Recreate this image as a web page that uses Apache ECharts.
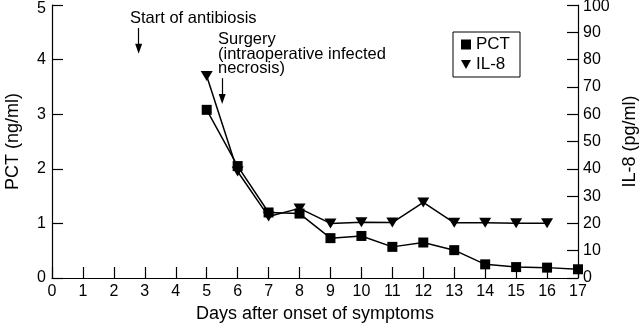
<!DOCTYPE html>
<html>
<head>
<meta charset="utf-8">
<script src="https://cdn.jsdelivr.net/npm/echarts@6/dist/echarts.min.js"></script>
<style>
html, body { margin: 0; padding: 0; background: #fff; }
#chart { width: 640px; height: 325px; }
</style>
</head>
<body>
<div id="chart"></div>
<script>
// 数据
var days = [5, 6, 7, 8, 9, 10, 11, 12, 13, 14, 15, 16, 17];
var pct = [3.08, 2.05, 1.2, 1.18, 0.73, 0.77, 0.57, 0.65, 0.51, 0.25, 0.2, 0.19, 0.16];
var il8Days = [5, 6, 7, 8, 9, 10, 11, 12, 13, 14, 15, 16];
var il8 = [74, 39, 22.5, 25.5, 20, 20.4, 20.3, 27.7, 20.2, 20.2, 20.1, 20.1];
var pctTicks = [0, 1, 2, 3, 4, 5];
var il8Ticks = [0, 10, 20, 30, 40, 50, 60, 70, 80, 90, 100];

var font = "Liberation Sans, Arial, Helvetica, sans-serif";
var downTri = "path://M0,0 L10,0 L5,9 Z";

var myChart = echarts.init(document.getElementById("chart"));

function pair(xs, ys) {
    return xs.map(function (x, i) { return [x, ys[i]]; });
}

var option = {
    animation: false,
    textStyle: { fontFamily: font, color: "#000" },
    grid: { left: 52, right: 62, top: 5, bottom: 47, outerBoundsMode: "none", containLabel: false },
    legend: {
        left: 453, top: 32,
        orient: "vertical",
        itemGap: 3,
        itemWidth: 10, itemHeight: 10,
        borderColor: "#000", borderWidth: 1,
        padding: [4, 10, 4, 8],
        textStyle: { fontSize: 17, color: "#000", fontFamily: font },
        data: [
            { name: "PCT", icon: "rect" },
            { name: "IL-8", icon: downTri }
        ]
    },
    xAxis: {
        type: "value", min: 0, max: 17, interval: 1,
        name: "Days after onset of symptoms",
        nameLocation: "middle", nameGap: 27,
        nameTextStyle: { fontSize: 18, color: "#000" },
        axisLine: { lineStyle: { color: "#000", width: 1.2 } },
        axisTick: { inside: true, length: 11, lineStyle: { color: "#000", width: 1.2 } },
        axisLabel: { fontSize: 16, color: "#000", margin: 6 },
        splitLine: { show: false }
    },
    yAxis: [{
        type: "value", min: pctTicks[0], max: pctTicks[pctTicks.length - 1], interval: 1,
        name: "PCT (ng/ml)",
        nameLocation: "middle", nameGap: 30, nameRotate: 90,
        nameTextStyle: { fontSize: 18, color: "#000" },
        axisLine: { show: true, lineStyle: { color: "#000", width: 1.2 } },
        axisTick: { show: true, inside: true, length: 11, lineStyle: { color: "#000", width: 1.2 } },
        axisLabel: { fontSize: 16, lineHeight: 8, color: "#000", margin: 6, verticalAlignMaxLabel: "top" },
        splitLine: { show: false }
    }, {
        type: "value", min: il8Ticks[0], max: il8Ticks[il8Ticks.length - 1], interval: 10,
        position: "right",
        name: "IL-8 (pg/ml)",
        nameLocation: "middle", nameGap: 43, nameRotate: 90,
        nameTextStyle: { fontSize: 18, color: "#000" },
        axisLine: { show: true, lineStyle: { color: "#000", width: 1.2 } },
        axisTick: { show: true, inside: true, length: 11, lineStyle: { color: "#000", width: 1.2 } },
        axisLabel: { fontSize: 16, lineHeight: 4, color: "#000", margin: 5, verticalAlignMaxLabel: "top" },
        splitLine: { show: false }
    }],
    series: [{
        name: "PCT", type: "line", yAxisIndex: 0,
        data: pair(days, pct),
        symbol: "rect", symbolSize: 10,
        lineStyle: { color: "#000", width: 1.5 },
        itemStyle: { color: "#000" },
        markLine: {
            silent: true,
            symbol: ["none", "triangle"], symbolSize: [7, 10],
            label: { show: false },
            lineStyle: { color: "#000", width: 1.2, type: "solid" },
            data: [
                [{ coord: [2.8, 4.58] }, { coord: [2.8, 4.2] }],
                [{ coord: [5.5, 3.66] }, { coord: [5.5, 3.28] }]
            ]
        }
    }, {
        name: "IL-8", type: "line", yAxisIndex: 1,
        data: pair(il8Days, il8),
        symbol: downTri, symbolSize: [12, 10],
        lineStyle: { color: "#000", width: 1.5 },
        itemStyle: { color: "#000" }
    }],
    graphic: [{
        type: "text", left: 130, top: 10,
        style: { text: "Start of antibiosis", font: "16.5px " + font, fill: "#000" }
    }, {
        type: "text", left: 218, top: 31,
        style: { text: "Surgery\n(intraoperative infected\nnecrosis)", font: "16.5px " + font, fill: "#000", lineHeight: 14.5 }
    }]
};

myChart.setOption(option);
</script>
</body>
</html>
